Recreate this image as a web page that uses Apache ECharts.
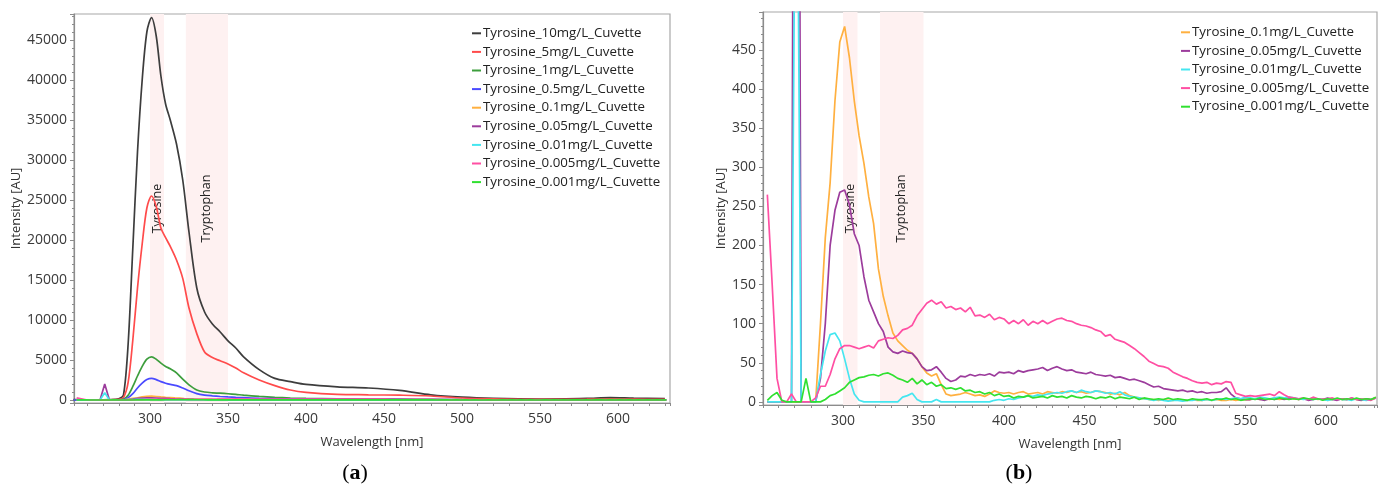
<!DOCTYPE html>
<html><head><meta charset="utf-8">
<script src="https://cdn.jsdelivr.net/npm/echarts@6/dist/echarts.min.js"></script>
<style>html,body{margin:0;padding:0;background:#fff}#c{width:1383px;height:492px}</style>
</head><body><div id="c"></div>
<script>
// ---------- DATA ----------
const namesAll = ['Tyrosine_10mg/L_Cuvette','Tyrosine_5mg/L_Cuvette','Tyrosine_1mg/L_Cuvette','Tyrosine_0.5mg/L_Cuvette',
  'Tyrosine_0.1mg/L_Cuvette','Tyrosine_0.05mg/L_Cuvette','Tyrosine_0.01mg/L_Cuvette','Tyrosine_0.005mg/L_Cuvette','Tyrosine_0.001mg/L_Cuvette'];
const namesLow = namesAll.slice(4);

// wavelength grid for the high-concentration spectra (nm)
const wlMain = [251,260,270,275,280, 283,286,289,292,295, 298,301,304,307,310, 313,317,321,325,330,
  335,340,345,350,355, 360,370,380,390,400, 420,440,460,480,500, 520,550,580,595,610, 630];
const tyr10 = [50,30,30,40,150, 600,7000,19000,31000,40000, 46000,47800,45500,40500,37000, 35000,32000,27500,21000,14000,
  11000,9500,8500,7400,6500, 5400,3800,2700,2300,1950, 1650,1500,1200,650,350, 200,120,200,300,230, 180];
const tyr5 = [30,20,20,30,80, 300,2200,7500,14000,19500, 24000,25500,24200,21500,20300, 19200,17500,15200,11500,8300,
  6000,5300,4900,4500,4000, 3400,2500,1800,1250,950, 700,650,600,500,250, 150,80,100,150,100, 80];
const tyr1 = [0,0,0,0,20, 100,600,1700,3000,4200, 5100,5400,5100,4600,4200, 3900,3400,2600,1900,1250,
  1000,900,850,780,700, 600,450,330,250,200, 150,120,100,70,40, 30,20,30,40,30, 20];
const tyr05 = [0,0,0,0,10, 50,300,800,1500,2100, 2550,2700,2550,2300,2100, 1950,1800,1500,1150,800,
  620,520,440,380,330, 290,210,160,130,110, 90,80,70,50,30, 20,15,20,25,20, 15];

// wavelength grid for the low-concentration spectra (nm)
const wlLow = [253,256,259,262,265,268,271,274,277,280,
  283,286,289,292,295,298,301,304,307,310,
  313,316,319,322,325,328,331,334,337,340,
  343,346,349,352,355,358,361,364,367,370,
  373,376,379,382,385,388,391,394,397,400,
  403,406,409,412,415,418,421,424,427,430,
  433,436,439,442,445,448,451,454,457,460,
  463,466,469,472,475,478,481,484,487,490,
  493,496,499,502,505,508,511,514,517,520,
  523,526,529,532,535,538,541,544,547,550,
  553,556,559,562,565,568,571,574,577,580,
  583,586,589,592,595,598,601,604,607,610,
  613,616,619,622,625,628,631];
const tyr01 = [0,0,0,0,0,0,0,0,0,0,
  0,100,210,280,385,460,480,440,385,340,
  305,262,228,170,135,110,88,78,72,66,
  62,55,45,37,33,36,22,10,8,9,
  10,12,10,8,9,7,10,14,12,11,
  12,10,12,13,10,11,12,10,13,12,
  11,13,12,14,12,13,11,12,14,13,
  12,10,11,9,12,8,6,5,4,3,
  3,2,3,2,2,3,2,2,3,2,
  2,3,2,3,2,2,3,2,3,3,
  3,4,3,4,3,5,3,4,6,4,
  3,4,3,5,3,4,2,3,4,3,
  3,4,3,2,4,3,6];
const tyr005 = [0,0,0,0,0,0,2000,0,0,0,
  0,30,100,200,245,268,271,252,215,200,
  160,130,115,100,90,70,64,62,65,63,
  62,55,45,40,41,45,38,30,26,28,
  33,32,35,33,35,34,36,33,38,37,
  38,36,40,38,40,41,42,44,40,43,
  45,42,40,41,38,37,36,38,35,34,
  33,34,31,32,30,28,29,27,25,22,
  19,20,17,16,15,14,15,13,14,12,
  13,11,12,12,13,18,10,5,4,3,
  3,4,3,2,4,3,5,3,4,5,
  3,4,2,3,4,3,5,3,2,4,
  3,5,3,2,4,3,5];
const tyr001 = [0,0,0,0,0,0,900,0,0,0,
  0,35,65,86,88,78,55,30,10,2,
  0,0,0,0,0,0,0,0,6,8,
  11,3,0,0,0,3,0,0,0,0,
  0,0,0,0,0,0,0,2,3,2,
  4,3,5,6,8,7,9,8,10,11,
  12,11,13,14,12,15,13,12,14,13,
  11,12,10,13,9,7,6,5,4,3,
  2,3,2,1,2,2,1,2,2,3,
  2,3,2,3,4,3,4,5,4,6,
  5,4,6,5,4,5,6,5,6,5,
  4,3,4,3,4,3,2,3,4,3,
  3,2,4,3,2,3,5];
const tyr0005 = [265,150,30,0,0,10,0,0,0,0,
  5,20,20,35,55,68,72,72,70,68,
  70,72,69,78,80,82,81,85,92,94,
  98,110,118,126,130,125,128,120,122,118,
  120,115,121,110,111,108,112,105,108,106,
  100,104,100,105,98,103,100,104,100,103,
  106,107,104,103,100,98,97,95,92,90,
  84,86,80,78,76,72,68,63,58,52,
  49,46,45,43,38,35,32,30,27,25,
  24,25,22,24,23,26,25,11,9,7,
  8,7,8,9,10,8,13,9,6,5,
  4,5,3,6,4,3,4,5,3,4,
  3,5,3,4,3,2,5];
const tyr0001 = [2,8,12,2,0,0,0,0,30,0,
  0,0,3,8,10,14,18,25,28,31,
  32,34,35,33,36,37,34,30,28,25,
  30,23,28,22,25,20,22,17,18,16,
  18,14,15,12,13,10,12,8,10,7,
  8,5,7,6,8,5,6,7,5,8,
  6,7,5,8,6,5,7,6,4,6,
  5,7,4,6,5,4,6,3,5,4,
  3,4,3,5,3,4,3,2,4,3,
  3,4,2,4,3,5,3,4,2,3,
  4,3,5,3,4,3,5,4,3,4,
  3,5,4,3,4,2,4,3,5,3,
  4,3,5,3,4,3,6];

const bandNames = ['Tyrosine','Tryptophan'];
const bandStart = [300, 323];
const bandEnd = [309, 350];
const captions = ['a','b'];

// ---------- CHART ----------
const FONT = 'Open Sans';
const colors = ['#3d3d3d','#ff4b4b','#3d9e3d','#4a4aff','#ffb040','#9c3c9c','#45e6f0','#ff4fa3','#30e030'];
const mainSets = [tyr10, tyr5, tyr1, tyr05];
const lowSets = [tyr01, tyr005, tyr001, tyr0005, tyr0001];
const pairs = (xs, ys) => xs.map((x, i) => [x, ys[i]]);

const axisColor = '#8c8c8c';
function xAxisCfg(gi, min, max) {
  return {type:'value', gridIndex:gi, min, max, splitNumber:38, minInterval:10, maxInterval:10,
    name:'Wavelength [nm]', nameLocation:'middle', nameGap:33,
    nameTextStyle:{fontFamily:FONT, fontSize:13, color:'#333'},
    axisLine:{onZero:false, lineStyle:{color:axisColor, width:1.2}},
    axisTick:{show:true, length:3, lineStyle:{color:axisColor}},
    axisLabel:{fontFamily:FONT, fontSize:14, color:'#3a3a3a', margin:9,
      formatter: v => (v >= 300 && Math.abs(v % 50) < 1e-6) ? String(Math.round(v)) : ''},
    splitLine:{show:false}};
}
function yAxisCfg(gi, min, max, step, nameGap) {
  return {type:'value', gridIndex:gi, min, max, splitNumber:10, minInterval:step, maxInterval:step,
    name:'Intensity [AU]', nameLocation:'middle', nameGap,
    nameTextStyle:{fontFamily:FONT, fontSize:13, color:'#333'},
    axisLine:{show:true, onZero:false, lineStyle:{color:axisColor, width:1.2}},
    axisTick:{show:true, length:4, lineStyle:{color:axisColor}},
    minorTick:{show:true, splitNumber:5, length:2, lineStyle:{color:axisColor}},
    axisLabel:{fontFamily:FONT, fontSize:14, color:'#3a3a3a', margin:7,
      formatter: v => (v >= 0 && Math.abs(v % step) < 1e-6) ? String(Math.round(v)) : ''},
    splitLine:{show:false}};
}
function bandSeries(gi) {
  return {type:'line', name:'bands' + gi, xAxisIndex:gi, yAxisIndex:gi, data:[], silent:true,
    markArea:{silent:true, itemStyle:{color:'#fef1f1'},
      label:{show:true, position:'inside', rotate:90, fontFamily:FONT, fontSize:12.5, color:'#222'},
      data: bandNames.map((n, i) => [{name:n, xAxis:bandStart[i]}, {xAxis:bandEnd[i]}])}};
}
const series = [bandSeries(0), bandSeries(1)];
mainSets.forEach((ys, i) => series.push({type:'line', name:namesAll[i], xAxisIndex:0, yAxisIndex:0,
  data:pairs(wlMain, ys), smooth:0.3, showSymbol:false, symbol:'none', color:colors[i], lineStyle:{width:1.7}}));
lowSets.forEach((ys, i) => series.push({type:'line', name:namesLow[i], xAxisIndex:0, yAxisIndex:0,
  data:pairs(wlLow, ys), showSymbol:false, symbol:'none', color:colors[i + 4], lineStyle:{width:1.7}}));
lowSets.forEach((ys, i) => series.push({type:'line', name:namesLow[i], xAxisIndex:1, yAxisIndex:1,
  data:pairs(wlLow, ys), showSymbol:false, symbol:'none', color:colors[i + 4], lineStyle:{width:1.7}}));

function legendCfg(names, left, top) {
  return {data:names, orient:'vertical', left, top, padding:0, icon:'rect', itemWidth:9, itemHeight:2, itemGap:4,
    textStyle:{fontFamily:FONT, fontSize:13.3, color:'#222', lineHeight:14.6, padding:[0,0,0,-3]}};
}

const chart = echarts.init(document.getElementById('c'));
chart.setOption({
  animation:false,
  backgroundColor:'#fff',
  grid:[
    {left:74, top:14, width:596, height:389, show:true, borderColor:'#a8a8a8', borderWidth:1.2, containLabel:false},
    {left:763, top:12, width:614, height:393, show:true, borderColor:'#a8a8a8', borderWidth:1.2, containLabel:false}
  ],
  xAxis:[xAxisCfg(0, 251.3, 633.3), xAxisCfg(1, 250.3, 631.7)],
  yAxis:[yAxisCfg(0, -375, 48250, 5000, 49), yAxisCfg(1, -4, 498.5, 50, 33)],
  legend:[legendCfg(namesAll, 472, 26), legendCfg(namesLow, 1181, 25)],
  series,
  graphic: captions.map((c, i) => ({type:'text', x: i === 0 ? 355 : 1019, y:473,
    style:{text:'{p|(}{b|' + c + '}{p|)}', textAlign:'center', textVerticalAlign:'middle',
      rich:{p:{fontFamily:'Liberation Serif', fontSize:22, color:'#000'},
            b:{fontFamily:'Liberation Serif', fontSize:22, fontWeight:'bold', color:'#000'}}}}))
});
</script></body></html>
